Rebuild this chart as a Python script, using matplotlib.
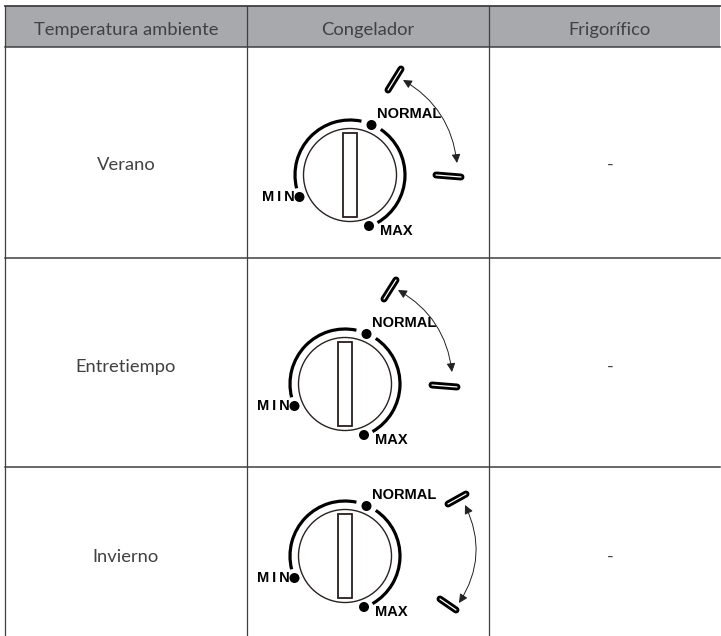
import matplotlib
matplotlib.use("Agg")
import matplotlib.pyplot as plt
from matplotlib.patches import Rectangle, Circle, Arc, FancyArrowPatch

headers = ["Temperatura ambiente", "Congelador", "Frigorífico"]
rows = ["Verano", "Entretiempo", "Invierno"]
fridge = ["-", "-", "-"]
col_edges = [5, 247, 489, 720]
col_text_x = [126, 368, 610]
row_edges = [47, 258, 467, 636]
row_text_y = [165, 367, 557]
header_top = 6

dial_centers = [(350, 175), (345, 384), (345, 556)]
handle_a = [((388, 90), (401, 69)), ((384, 299), (396, 280)), ((440, 599), (456, 610))]
handle_b = [((436, 175), (461, 177)), ((432, 385), (457, 387)), ((448, 504), (466, 494))]
arrow_ends = [((403, 80), (457, 163)), ((398, 290), (452, 372)), ((465, 505), (459, 603))]
arrow_rad = [-0.25, -0.25, -0.28]

GREY = "#3f3f41"
HEAD = "#a7a9ac"
TXT = "#414143"

fig = plt.figure(figsize=(7.21, 6.36), dpi=100)
ax = fig.add_axes([0, 0, 1, 1])
ax.set_xlim(0, 721); ax.set_ylim(636, 0); ax.axis("off")

ax.add_patch(Rectangle((col_edges[0], header_top), col_edges[-1]-col_edges[0], row_edges[0]-header_top,
                       fc=HEAD, ec="none", zorder=1))
ax.plot([col_edges[0], col_edges[-1]], [header_top]*2, color=GREY, lw=1.3, zorder=2)
for y in row_edges[:-1]:
    ax.plot([col_edges[0], col_edges[-1]], [y, y], color=GREY, lw=1.1, zorder=2)
for x in col_edges[:-1]:
    ax.plot([x, x], [header_top, row_edges[-1]], color=GREY, lw=0.9, zorder=2)

FONT = "Lato"
FS = 13.2
for x, h in zip(col_text_x, headers):
    ax.text(x, 30.5, h, ha="center", va="center", fontsize=FS, family=FONT, color=TXT)
for y, r, f in zip(row_text_y, rows, fridge):
    ax.text(col_text_x[0], y, r, ha="center", va="center", fontsize=FS, family=FONT, color=TXT)
    ax.text(col_text_x[2], y, f, ha="center", va="center", fontsize=FS, family=FONT, color=TXT)

def pill(p, q):
    ax.plot(*zip(p, q), color="black", lw=5.0, solid_capstyle="round", zorder=3)
    ax.plot(*zip(p, q), color="white", lw=0.9, solid_capstyle="round", zorder=4)

LAB = dict(family="Liberation Sans", weight="bold", color="black", va="center", zorder=5)
for (cx, cy), a, b, e, rad in zip(dial_centers, handle_a, handle_b, arrow_ends, arrow_rad):
    ax.add_patch(Circle((cx, cy), 46.5, fc="white", ec="#2a2320", lw=1.0, zorder=3))
    ax.add_patch(Rectangle((cx-6.7, cy-42), 13.4, 84, fc="white", ec="#2a1e1a", lw=1.3, zorder=4))
    # y axis is inverted, so these angles run clockwise on screen
    ax.add_patch(Arc((cx, cy), 110, 110, theta1=166, theta2=282, ec="black", lw=2.3, zorder=3))
    ax.add_patch(Arc((cx, cy), 110, 110, theta1=-56, theta2=60, ec="black", lw=2.3, zorder=3))
    for dx, dy in [(21.5, -50), (-50.5, 22), (19, 51)]:
        ax.add_patch(Circle((cx+dx, cy+dy), 5, fc="black", ec="none", zorder=4))
    ax.text(cx+27, cy-61, "NORMAL", fontsize=10.5, ha="left", **LAB)
    ax.text(cx-88, cy+22, "M\u2009I\u2009N", fontsize=10.5, ha="left", **LAB)
    ax.text(cx+30, cy+56, "MAX", fontsize=10.5, ha="left", **LAB)
    pill(*a); pill(*b)
    ax.add_patch(FancyArrowPatch(e[0], e[1], connectionstyle=f"arc3,rad={rad}", arrowstyle="<|-|>",
                                 mutation_scale=13, lw=0.7, color="#222222", shrinkA=0, shrinkB=0, zorder=3))
fig.savefig("out.png", dpi=100)
